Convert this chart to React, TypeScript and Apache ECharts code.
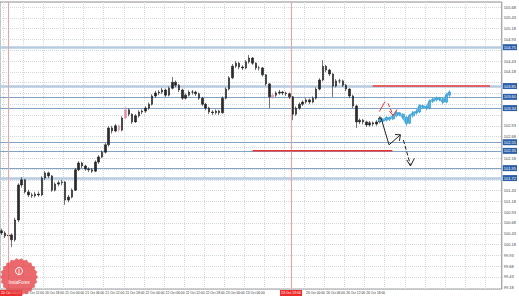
import React, { useEffect, useRef } from 'react';
import * as echarts from 'echarts';

const N = 150;

const priceTicks = [105.68, 105.43, 105.18, 104.93, 104.68, 104.43, 104.18, 103.93, 103.68, 103.43, 103.18, 102.93, 102.68, 102.43, 102.18, 101.93, 101.68, 101.43, 101.18, 100.93, 100.68, 100.43, 100.18, 99.93, 99.68, 99.43, 99.18];

const timeLabels = ['20 Oct 12:00', '20 Oct 18:00', '21 Oct 00:00', '21 Oct 06:00', '21 Oct 12:00', '21 Oct 18:00', '22 Oct 00:00', '22 Oct 06:00', '22 Oct 12:00', '22 Oct 18:00', '23 Oct 00:00', '23 Oct 06:00', '23 Oct 12:00', '23 Oct 18:00', '26 Oct 00:00', '26 Oct 06:00', '26 Oct 12:00', '26 Oct 18:00'];

// [open, close, low, high]
const candles = [
  [100.50, 100.45, 100.40, 100.55], [100.45, 100.38, 100.33, 100.49], [100.38, 100.40, 100.31, 100.46], [100.40, 100.29, 100.12, 100.44],
  [100.29, 100.75, 100.25, 100.80], [100.75, 101.56, 100.70, 101.60], [101.56, 101.68, 101.50, 101.74], [101.68, 101.40, 101.36, 101.70],
  [101.40, 101.33, 101.28, 101.45], [101.33, 101.31, 101.26, 101.38], [101.31, 101.35, 101.27, 101.40], [101.35, 101.33, 101.29, 101.41],
  [101.33, 101.72, 101.30, 101.76], [101.72, 101.84, 101.68, 101.88], [101.84, 101.77, 101.72, 101.87], [101.77, 101.44, 101.40, 101.79],
  [101.44, 101.58, 101.41, 101.62], [101.58, 101.61, 101.53, 101.66], [101.61, 101.63, 101.55, 101.68], [101.63, 101.21, 101.10, 101.65],
  [101.21, 101.28, 101.16, 101.33], [101.28, 101.44, 101.25, 101.48], [101.44, 101.91, 101.42, 101.95], [101.91, 102.07, 101.88, 102.11],
  [102.07, 102.00, 101.95, 102.10], [102.00, 101.93, 101.89, 102.03], [101.93, 101.91, 101.86, 101.97], [101.91, 101.88, 101.84, 101.95],
  [101.88, 102.09, 101.86, 102.13], [102.09, 102.21, 102.05, 102.25], [102.21, 102.32, 102.18, 102.36], [102.32, 102.49, 102.29, 102.53],
  [102.49, 102.88, 102.45, 102.92], [102.88, 102.81, 102.75, 102.93], [102.81, 102.93, 102.78, 102.97], [102.93, 102.83, 102.78, 102.96],
  [102.83, 103.11, 102.80, 103.15], [103.11, 103.30, 103.08, 103.38], [103.30, 103.20, 103.15, 103.33], [103.20, 103.02, 102.97, 103.22],
  [103.02, 103.16, 103.00, 103.20], [103.16, 103.25, 103.12, 103.29], [103.25, 103.27, 103.20, 103.31], [103.27, 103.34, 103.23, 103.38],
  [103.34, 103.43, 103.30, 103.47], [103.43, 103.62, 103.40, 103.66], [103.62, 103.69, 103.58, 103.74], [103.69, 103.71, 103.64, 103.76],
  [103.71, 103.76, 103.67, 103.81], [103.76, 103.64, 103.60, 103.79], [103.64, 103.80, 103.61, 103.84], [103.80, 103.94, 103.77, 104.06],
  [103.94, 103.87, 103.82, 103.98], [103.87, 103.76, 103.71, 103.90], [103.76, 103.57, 103.53, 103.79], [103.57, 103.64, 103.54, 103.68],
  [103.64, 103.71, 103.61, 103.75], [103.71, 103.71, 103.65, 103.76], [103.71, 103.67, 103.62, 103.74], [103.67, 103.57, 103.53, 103.70],
  [103.57, 103.43, 103.39, 103.60], [103.43, 103.34, 103.29, 103.46], [103.34, 103.25, 103.20, 103.37], [103.25, 103.23, 103.18, 103.29],
  [103.23, 103.27, 103.19, 103.31], [103.27, 103.23, 103.18, 103.30], [103.23, 103.57, 103.21, 103.61], [103.57, 103.78, 103.54, 103.82],
  [103.78, 104.04, 103.75, 104.08], [104.04, 104.31, 104.01, 104.36], [104.31, 104.38, 104.27, 104.43], [104.38, 104.29, 104.24, 104.41],
  [104.29, 104.27, 104.22, 104.33], [104.27, 104.41, 104.24, 104.45], [104.41, 104.50, 104.37, 104.57], [104.50, 104.38, 104.34, 104.52],
  [104.38, 104.27, 104.22, 104.40], [104.27, 104.27, 104.21, 104.32], [104.27, 104.11, 104.07, 104.29], [104.11, 103.90, 103.86, 104.13],
  [103.90, 103.60, 103.34, 103.92], [103.60, 103.64, 103.55, 103.69], [103.64, 103.69, 103.60, 103.73], [103.69, 103.71, 103.65, 103.76],
  [103.71, 103.69, 103.64, 103.74], [103.69, 103.67, 103.62, 103.72], [103.67, 103.60, 103.55, 103.70], [103.60, 103.20, 103.06, 103.62],
  [103.20, 103.34, 103.16, 103.38], [103.34, 103.43, 103.30, 103.47], [103.43, 103.48, 103.39, 103.52], [103.48, 103.53, 103.44, 103.57],
  [103.53, 103.48, 103.43, 103.56], [103.48, 103.57, 103.45, 103.61], [103.57, 103.78, 103.54, 103.82], [103.78, 103.99, 103.75, 104.03],
  [103.99, 104.31, 103.96, 104.45], [104.31, 104.22, 104.17, 104.34], [104.22, 104.13, 104.08, 104.25], [104.13, 103.85, 103.60, 104.15],
  [103.85, 103.97, 103.82, 104.01], [103.97, 103.97, 103.91, 104.02], [103.97, 103.87, 103.83, 104.00], [103.87, 103.78, 103.73, 103.90],
  [103.78, 103.62, 103.57, 103.80], [103.62, 103.39, 103.34, 103.65], [103.39, 103.02, 102.88, 103.42], [103.02, 103.06, 102.97, 103.10],
  [103.06, 103.02, 102.96, 103.09], [103.02, 102.95, 102.90, 103.05], [102.95, 103.00, 102.91, 103.04], [103.00, 102.97, 102.92, 103.03],
  [102.97, 103.02, 102.93, 103.06], [103.02, 103.11, 102.99, 103.15],
];

const pinkCandles = [35, 37, 81];

// forecast: [index, open, close, low, high]
const forecast = [
  [113, 103.08, 103.04, 102.99, 103.10], [114, 103.04, 103.06, 103.00, 103.11], [115, 103.06, 103.11, 103.03, 103.15],
  [116, 103.11, 103.09, 103.04, 103.14], [117, 103.09, 103.16, 103.06, 103.20], [118, 103.16, 103.23, 103.13, 103.27],
  [119, 103.23, 103.20, 103.15, 103.25], [120, 103.20, 103.13, 103.08, 103.22], [121, 103.13, 102.99, 102.93, 103.15],
  [122, 102.99, 103.16, 102.97, 103.20], [123, 103.16, 103.23, 103.12, 103.27], [124, 103.23, 103.25, 103.19, 103.30],
  [125, 103.25, 103.39, 103.22, 103.43], [126, 103.39, 103.37, 103.32, 103.42], [127, 103.37, 103.34, 103.29, 103.40],
  [128, 103.34, 103.50, 103.31, 103.54], [129, 103.50, 103.53, 103.46, 103.58], [130, 103.53, 103.57, 103.49, 103.61],
  [131, 103.57, 103.55, 103.50, 103.60], [132, 103.55, 103.48, 103.43, 103.58], [133, 103.48, 103.64, 103.45, 103.68],
  [134, 103.64, 103.71, 103.60, 103.75],
];

const thickLevels = [104.75, 103.85, 101.72];
const thinLevels = [103.60, 103.34, 102.55, 102.35, 101.95];
const currentPrice = 103.11;

const redLevelA = [[110.9, 103.85], [146.0, 103.85]];
const redLevelB = [[75, 102.35], [116.8, 102.35]];

const vLines = [1.9, 86.5];
const vLineLabels = ['20 Oct 06:00', '23 Oct 19:00'];

const redArrowSolid = [[112.9, 103.26], [114.6, 103.49]];
const redArrowDashed = [[115.5, 103.45], [117.0, 103.18]];
const redArrowHead = [[115.9, 103.27], [117.0, 103.17], [118.2, 103.31]];
const blackArrowSolid = [[113.3, 103.14], [115.8, 102.49], [119.2, 102.72]];
const blackArrowHead1 = [[117.6, 102.73], [119.2, 102.72], [118.9, 102.58]];
const blackArrowDashed = [[120.1, 102.60], [122.2, 102.02]];
const blackArrowHead2 = [[121.1, 102.14], [122.2, 102.00], [123.4, 102.18]];

const FONT = 'Liberation Sans';

function lineSeries(data: number[][], color: string, width: number, type: string = 'solid') {
  return {
    type: 'line',
    xAxisIndex: 1,
    yAxisIndex: 0,
    data,
    symbol: 'none',
    silent: true,
    z: 5,
    lineStyle: { color, width, type },
  };
}

export default function App() {
  const ref = useRef<HTMLDivElement>(null);
  useEffect(() => {
    if (!ref.current) return;
    const chart = echarts.init(ref.current, undefined, { renderer: 'svg' });
    const categories = Array.from({ length: N }, (_, i) => String(i));

    const boxed = [...thickLevels, ...thinLevels, currentPrice];
    const labelTicks = priceTicks.filter((t) => boxed.every((b) => Math.abs(b - t) > 0.12));

    const levelLabel = (bg: string) => ({
      show: true,
      position: 'end',
      distance: 1,
      formatter: (p: any) => Number(p.value).toFixed(2),
      backgroundColor: bg,
      color: '#fff',
      fontSize: 4,
      fontFamily: FONT,
      padding: [1, 1],
    });

    const markData: any[] = [
      ...thickLevels.map((v) => ({ yAxis: v, lineStyle: { color: '#b6cbe0', width: 2.5, type: 'solid' }, label: levelLabel('#2a5ea8') })),
      ...thinLevels.map((v) => ({ yAxis: v, lineStyle: { color: '#84a2c2', width: 1, type: 'solid' }, label: levelLabel('#2a5ea8') })),
      { yAxis: currentPrice, lineStyle: { opacity: 0 }, label: levelLabel('#1a1a1a') },
    ];

    const pink = '#e890a8';
    const mainData = candles.map((c, i) =>
      pinkCandles.includes(i)
        ? { value: c, itemStyle: { color: pink, color0: pink, borderColor: pink, borderColor0: pink } }
        : c
    );

    const logoPts: number[][] = [];
    const teeth = 22;
    for (let k = 0; k < teeth * 2; k++) {
      const a = (Math.PI * k) / teeth;
      const r = k % 2 === 0 ? 19 : 17.2;
      logoPts.push([19 + r * Math.cos(a), 277 + r * Math.sin(a)]);
    }

    const labelIdx = (i: number) => i >= 7 && i <= 113 && (i - 7) % 6 === 0 && i !== 79 && i !== 85;

    chart.setOption({
      animation: false,
      backgroundColor: '#ffffff',
      grid: { left: 0, right: 14, top: 2, bottom: 7, show: true, borderColor: '#8c8c8c', borderWidth: 1, backgroundColor: 'transparent' },
      xAxis: [
        {
          type: 'category',
          data: categories,
          boundaryGap: true,
          axisLine: { show: false },
          axisTick: { show: false },
          axisLabel: {
            interval: (i: number) => labelIdx(i),
            formatter: (_v: string, i: number) => timeLabels[(i - 7) / 6] ?? '',
            fontSize: 3.3,
            fontFamily: FONT,
            color: '#333',
            margin: 2,
            align: 'left',
          },
          splitLine: {
            show: true,
            interval: (i: number) => (i - 7) % 6 === 0,
            lineStyle: { color: '#d3d9e0', type: 'dotted', width: 1 },
          },
        },
        { type: 'value', min: -0.5, max: N - 0.5, show: false },
      ],
      yAxis: [
        {
          type: 'value',
          position: 'right',
          min: 99.152,
          max: 105.796,
          axisLine: { show: false },
          axisTick: { show: false, customValues: priceTicks },
          axisLabel: {
            customValues: labelTicks,
            formatter: (v: number) => v.toFixed(2),
            fontSize: 4,
            fontFamily: FONT,
            color: '#444',
            margin: 2,
          },
          splitLine: { show: true, lineStyle: { color: '#d3d9e0', type: 'dotted', width: 1 } },
        },
      ],
      series: [
        {
          type: 'candlestick',
          xAxisIndex: 0,
          yAxisIndex: 0,
          data: mainData,
          barWidth: 2,
          itemStyle: { color: '#2a2a2a', color0: '#2a2a2a', borderColor: '#1a1a1a', borderColor0: '#1a1a1a', borderWidth: 0.6 },
          markLine: { silent: true, symbol: ['none', 'none'], data: markData, z: 2 },
          z: 4,
        },
        {
          type: 'candlestick',
          xAxisIndex: 0,
          yAxisIndex: 0,
          data: forecast,
          encode: { x: 0, y: [1, 2, 3, 4] },
          barWidth: 2.5,
          itemStyle: { color: '#5ab6e0', color0: '#5ab6e0', borderColor: '#3d9fd4', borderColor0: '#3d9fd4', borderWidth: 0.8 },
          z: 4,
        },
        {
          type: 'line',
          xAxisIndex: 0,
          yAxisIndex: 0,
          data: forecast.map((f) => [f[0], f[2]]),
          symbol: 'none',
          lineStyle: { color: '#62bce4', width: 2.5 },
          z: 3,
        },
        {
          ...lineSeries(redLevelA, '#ee3b3b', 1.5),
          markLine: {
            silent: true,
            symbol: ['none', 'none'],
            data: vLines.map((v, i) => ({
              xAxis: v,
              lineStyle: { color: '#f3a0a0', width: 1, type: 'solid' },
              label: {
                show: true,
                position: 'start',
                distance: 1,
                formatter: vLineLabels[i],
                backgroundColor: '#ee2a2a',
                color: '#fff',
                fontSize: 3.5,
                fontFamily: FONT,
                padding: [1, 1],
                ...(i === 0 ? { offset: [3, 0] } : {}),
              },
            })),
          },
        },
        lineSeries(redLevelB, '#e83434', 1.5),
        lineSeries(redArrowSolid, '#ee3333', 1),
        lineSeries(redArrowDashed, '#ee3333', 1, 'dashed'),
        lineSeries(redArrowHead, '#ee3333', 1),
        lineSeries(blackArrowSolid, '#222', 1),
        lineSeries(blackArrowHead1, '#222', 1),
        lineSeries(blackArrowDashed, '#222', 1, 'dashed'),
        lineSeries(blackArrowHead2, '#222', 1),
      ],
      graphic: [
        { type: 'polygon', shape: { points: logoPts }, style: { fill: '#e6484c', opacity: 0.82 }, z: 100 },
        { type: 'circle', shape: { cx: 19, cy: 271, r: 3.5 }, style: { fill: 'none', stroke: '#fff', lineWidth: 1 }, z: 101 },
        { type: 'line', shape: { x1: 19, y1: 269, x2: 19, y2: 275 }, style: { stroke: '#fff', lineWidth: 0.8 }, z: 101 },
        { type: 'text', x: 19, y: 280, style: { text: 'InstaForex', fill: '#fff', fontSize: 4.5, fontFamily: FONT, align: 'center', verticalAlign: 'top' }, z: 101 },
      ],
    });
    return () => chart.dispose();
  }, []);
  return <div ref={ref} style={{ position: 'fixed', left: 0, top: 0, width: 519, height: 296 }} />;
}
